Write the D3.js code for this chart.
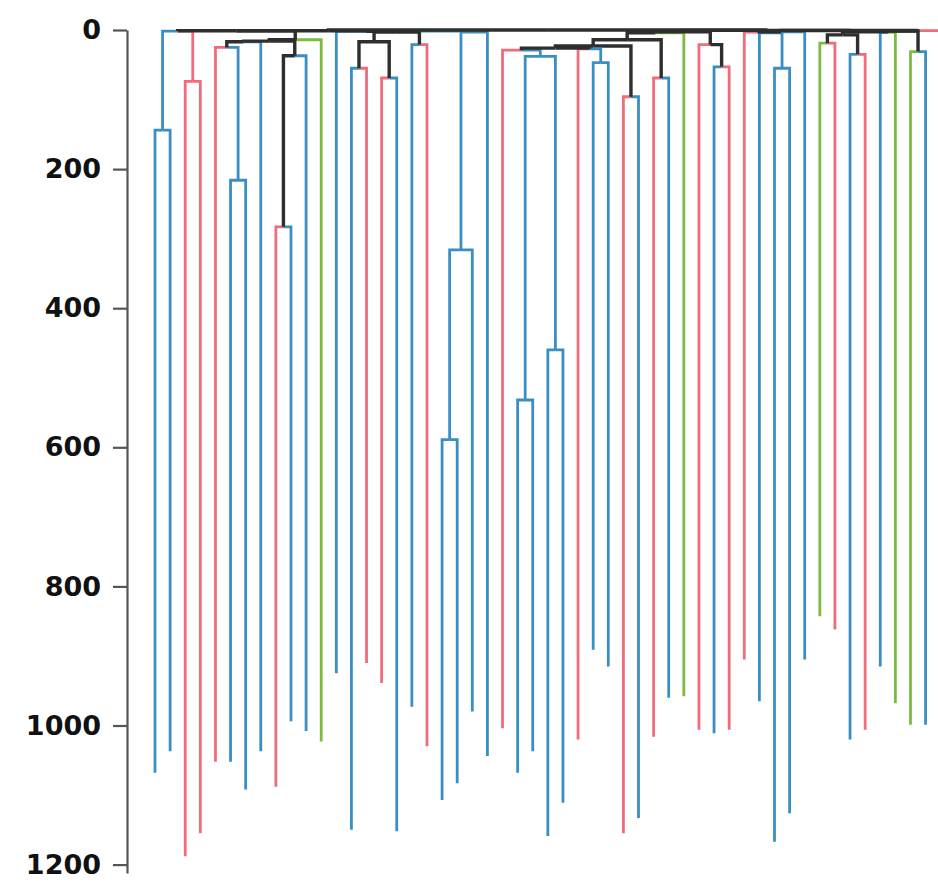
<!DOCTYPE html>
<html>
<head>
<meta charset="utf-8">
<script src="https://cdn.jsdelivr.net/npm/d3@7"></script>
<style>
  body { margin: 0; background: #fff; }
  .axis text { font-family: "DejaVu Sans", sans-serif; font-weight: bold; font-size: 27px; fill: #111; }
  .axis path, .axis line { stroke: #555; stroke-width: 2.2; }
  .link { fill: none; stroke-width: 2.8; }
</style>
</head>
<body>
<div id="chart"></div>
<script>
// Inverted dendrogram: leaves hang down to their own depth, merges near 0.
var width = 938,
	height = 883;

// leaf colour groups, left to right
var leafColor = ["b","b","p","p","p","b","b","b","p","b","b","g","b","b","p","p","b","b","p","b",
	"b","b","b","p","b","b","b","b","p","b","b","p","b","p","b","g","p","b","p","p",
	"b","b","b","b","g","p","b","p","b","g","g","b","p"];

// how far each leaf hangs down
var leafDepth = [1068,1037,1188,1155,1052,1052,1092,1037,1088,994,1008,1023,925,1150,910,939,1152,973,1030,1107,
	1083,980,1044,1004,1068,1037,1159,1111,1020,891,915,1155,1133,1016,960,958,1006,1011,1006,905,
	965,1167,1126,905,843,862,1020,1006,915,968,999,999,1240];

// merges: [name, left, right, height]; numbers are leaves (1-based)
var merges = [
	["m1", 1, 2, 144], ["m2", 3, 4, 74], ["m3", "m1", "m2", 1.5],
	["m4", 6, 7, 216], ["m5", 5, "m4", 25], ["m6", "m5", 8, 17],
	["m7", 9, 10, 283], ["m8", "m7", 11, 37], ["m9", "m6", "m8", 16], ["m10", "m9", 12, 14],
	["m11", "m3", "m10", 1],
	["m12", 14, 15, 55], ["m13", 16, 17, 69], ["m14", "m12", "m13", 17],
	["m15", 18, 19, 21],
	["m16", 20, 21, 589], ["m17", "m16", 22, 316],
	["m18", 25, 26, 532], ["m19", 27, 28, 460], ["m20", "m18", "m19", 38], ["m21", 24, "m20", 29],
	["m22", 30, 31, 47], ["m23", 32, 33, 96], ["m24", 29, "m22", 27],
	["m25", "m21", "m24", 26], ["m26", "m25", "m23", 23],
	["m27", 34, 35, 69], ["m28", "m26", "m27", 14], ["m29", "m28", 36, 4],
	["m30", 38, 39, 53], ["m31", 37, "m30", 21],
	["m32", 42, 43, 55],
	["m33", 45, 46, 19], ["m34", 47, 48, 35], ["m35", "m33", "m34", 7],
	["m36", 51, 52, 31],
	["t1", "m17", 23, 3], ["t2", "m14", "m15", 3], ["t3", 13, "t2", 2], ["t4", "t3", "t1", 1.5],
	["t5", "m11", "t4", 1],
	["t6", "m29", "m31", 2.5],
	["t7", 41, "m32", 4], ["t8", 40, "t7", 3], ["t9", "t8", 44, 2.5],
	["t10", 49, 50, 3.5], ["t11", "m35", "t10", 2.5], ["t12", "t11", "m36", 1.5], ["t13", "t12", 53, 1],
	["t14", "t9", "t13", 0.8], ["t15", "t6", "t14", 0.6],
	["root", "t5", "t15", 0]
];

var yTicks = [0, 200, 400, 600, 800, 1000, 1200];

var colors = {b: "#3b8ec2", p: "#f06b7c", g: "#7dba42", k: "#2e2e2e"};

var svg = d3.select("#chart").append("svg")
	.attr("width", width)
	.attr("height", height);

var x = d3.scalePoint()
	.domain(d3.range(1, leafColor.length + 1))
	.range([155, 940.7]);

var y = d3.scaleLinear()
	.domain([0, 1212])
	.range([30, 30 + 1212 * 0.6955]);

// build nodes
var nodes = {};
leafColor.forEach(function(c, i) {
	nodes[i + 1] = {x: x(i + 1), h: leafDepth[i], color: c, leaf: true};
});
merges.forEach(function(m) {
	var a = nodes[m[1]], b = nodes[m[2]];
	var n = {x: (a.x + b.x) / 2, h: m[3], color: a.color === b.color ? a.color : "k"};
	a.parent = n; b.parent = n;
	nodes[m[0]] = n;
});

// leaves first, then internal links from deep to shallow
var list = Object.keys(nodes).map(function(k) { return nodes[k]; })
	.filter(function(n) { return n.parent; })
	.sort(function(a, b) {
		if (a.leaf !== b.leaf) return a.leaf ? -1 : 1;
		return b.h - a.h;
	});

svg.append("g")
	.selectAll(".link")
	.data(list)
	.enter().append("path")
		.attr("class", "link")
		.attr("d", function(d) {
			return "M" + d.x + "," + y(d.h) + "V" + y(d.parent.h) + "H" + d.parent.x;
		})
		.style("stroke", function(d) { return colors[d.color]; })
		.style("stroke-width", function(d) { return d.color === "k" ? 3.4 : null; });

svg.append("g")
	.attr("class", "axis")
	.attr("transform", "translate(127,0)")
	.call(d3.axisLeft(y).tickValues(yTicks).tickFormat(d3.format("d"))
		.tickSize(14).tickSizeOuter(0).tickPadding(12));
</script>
</body>
</html>
